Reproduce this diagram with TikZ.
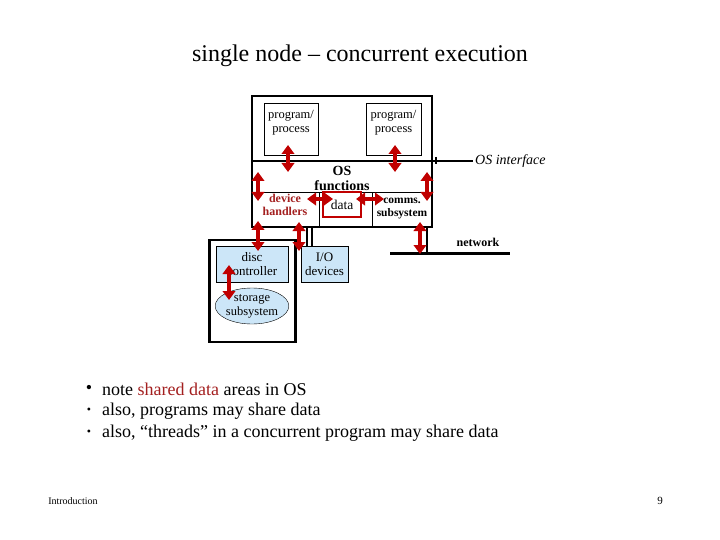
\documentclass[tikz,border=0pt]{standalone}
\usepackage{fontspec}
\setmainfont{Liberation Serif}
\usetikzlibrary{arrows.meta,shapes.geometric}
\definecolor{arrowred}{HTML}{C00000}
\definecolor{textred}{HTML}{A31F1F}
\definecolor{boxblue}{HTML}{CCE6F8}
\begin{document}
\begin{tikzpicture}[x=1pt, y=-1pt]
			\tikzset{box/.style={draw, thin, rectangle, inner sep=0pt, align=center},
				thickbox/.style={draw, line width=2.8pt, rectangle, inner sep=0pt},
				dbl/.style={{Triangle[width=12.5pt,length=9pt]}-{Triangle[width=12.5pt,length=9pt]}, line width=4pt, draw=arrowred},
				lbl/.style={inner sep=0pt, align=center, font=\fontsize{12}{12}\selectfont}}
			\useasboundingbox (0,0) rectangle (720,540);
			
			\node[lbl, font=\fontsize{24}{26}\selectfont] (title) at (360,56) {single node – concurrent execution};
			
			% the node and its OS
			\node[thickbox, minimum width=180, minimum height=131] (node) at (342,161.5) {};
			\node[box, minimum width=54, minimum height=52] (progL) at (291,129) {};
			\node[box, minimum width=55, minimum height=52] (progR) at (393.5,129) {};
			\node[lbl, font=\fontsize{12.5}{14}\selectfont] (progLtxt) at (291,123) {program/\\process};
			\node[lbl, font=\fontsize{12.5}{14}\selectfont] (progRtxt) at (393.5,123) {program/\\process};
			\node[box, minimum width=67, minimum height=35] (dev) at (285.5,209.5) {};
			\node[box, minimum width=60, minimum height=35] (comms) at (402,209.5) {};
			\draw[thin] (dev.north east) -- (comms.north west);
			\node[draw=arrowred, line width=2.5pt, minimum width=38, minimum height=25, inner sep=0pt, font=\fontsize{13.5}{14}\selectfont] (data) at (342,204.5) {data};
			\node[lbl, font=\bfseries\fontsize{14}{15}\selectfont] (osf) at (342,178.5) {OS\\functions};
			\node[lbl, text=textred, font=\bfseries\fontsize{12}{13}\selectfont] (devtxt) at (285,205) {device\\handlers};
			\node[lbl, font=\bfseries\fontsize{11.5}{13}\selectfont] (commtxt) at (402,209) {comms.\\subsystem};
			
			\coordinate (ifL) at (252,161);
			\coordinate (ifM) at (432,161);
			\coordinate (ifR) at (473,161);
			\draw[line width=2.8pt] (ifL) -- (ifM);
			\draw[line width=1.2pt] (ifM) -- (ifR);
			\draw[line width=2pt] (436,157) -- (436,164);
			\node[lbl, anchor=west, font=\itshape\fontsize{14}{14}\selectfont] (osif) at ([xshift=2pt]ifR) {OS interface};
			
			% devices
			\node[thickbox, minimum width=86, minimum height=102] (discbox) at (252.5,291) {};
			\node[box, fill=boxblue, minimum width=72, minimum height=36, font=\fontsize{13}{14}\selectfont] (disc) at (252,264) {disc\\controller};
			\node[box, fill=boxblue, minimum width=47, minimum height=36, font=\fontsize{13}{14}\selectfont] (io) at (324.5,264) {I/O\\devices};
			\node[draw, thin, ellipse, fill=boxblue, minimum width=72, minimum height=36, inner sep=0pt, align=center, font=\fontsize{12.5}{14}\selectfont] (store) at (252,306) {storage\\subsystem};
			
			\coordinate (netL) at (390,253);
			\coordinate (netR) at (510,253);
			\draw[line width=3pt] (netL) -- (netR);
			\node[lbl, font=\bfseries\fontsize{12}{12}\selectfont] (net) at (478,242) {network};
			
			\draw[line width=1.8pt] (307,227) -- (307,246);
			\draw[line width=1.8pt] (312,227) -- (312,246);
			\draw[line width=1.8pt] (427,227) -- (427,253);
			
			% red data paths
			\draw[dbl] (288,145) -- (288,172);
			\draw[dbl] (395,145) -- (395,172);
			\draw[dbl] (258,172) -- (258,201);
			\draw[dbl] (427,172) -- (427,201);
			\draw[dbl] (307,199) -- (333,199);
			\draw[dbl] (356,199) -- (384,199);
			\draw[dbl] (258,221) -- (258,251);
			\draw[dbl] (299,222) -- (299,251);
			\draw[dbl] (420,222) -- (420,254);
			\draw[dbl] (229,265) -- (229,300);
			
			% notes
			\node[lbl, anchor=west, font=\fontsize{18}{18}\selectfont] (n1) at (102,389) {note \textcolor{textred}{shared data} areas in OS};
			\node[lbl, anchor=west, font=\fontsize{18}{18}\selectfont] (n2) at (102,411) {also, programs may share data};
			\node[lbl, anchor=west, font=\fontsize{18}{18}\selectfont] (n3) at (102,433) {also, “threads” in a concurrent program may share data};
			\node[lbl, font=\fontsize{18}{18}\selectfont] (b1) at (89,389) {•};
			\node[lbl, font=\fontsize{12}{12}\selectfont] (b2) at (89,411) {•};
			\node[lbl, font=\fontsize{12}{12}\selectfont] (b3) at (89,433) {•};
			
			\node[lbl, font=\fontsize{10}{10}\selectfont] (foot) at (73,501) {Introduction};
			\node[lbl, font=\fontsize{11}{11}\selectfont] (page) at (660,501) {9};
		\end{tikzpicture}
\end{document}
